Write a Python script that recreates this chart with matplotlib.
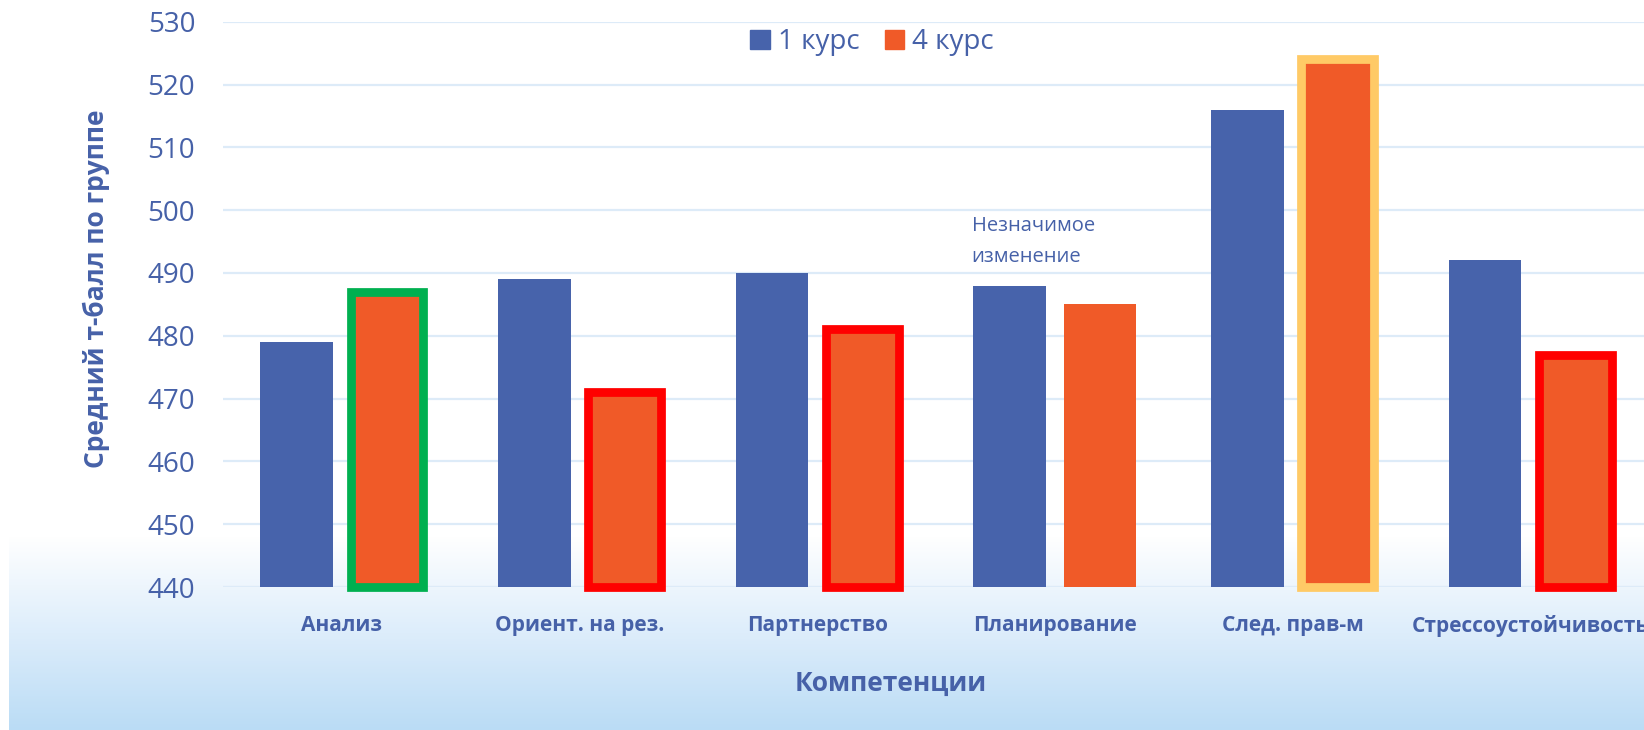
import numpy as np
import matplotlib.pyplot as plt
from matplotlib.colors import LinearSegmentedColormap
from matplotlib.patches import Patch

plt.rcParams['font.family'] = ['Open Sans', 'DejaVu Sans']

# Datos del grafico
categorias = ['Анализ', 'Ориент. на рез.', 'Партнерство', 'Планирование',
              'След. прав-м', 'Стрессоустойчивость']
curso_1 = [479, 489, 490, 488, 516, 492]
curso_4 = [487, 471, 481, 485, 524, 477]
series = ['1 курс', '4 курс']
bordes_4 = ['#00B050', '#FF0000', '#FF0000', None, '#FFCA66', '#FF0000']
ticks_y = [440, 450, 460, 470, 480, 490, 500, 510, 520, 530]

azul = '#4763AB'
naranja = '#F05A28'
texto = '#4661A8'

fig = plt.figure(figsize=(16.44, 7.30), dpi=100)
fig.patch.set_facecolor('white')

# Fondo degradado en la parte inferior
fondo = fig.add_axes([9 / 1644, 0, 1, (730 - 537) / 730], zorder=-10)
cmap = LinearSegmentedColormap.from_list('fondo', ['#BADCF5', '#DDEDFB', '#FFFFFF'])
grad = np.linspace(0, 1, 256).reshape(-1, 1)
fondo.imshow(grad, aspect='auto', cmap=cmap, origin='lower', extent=[0, 1, 0, 1])
fondo.axis('off')

ax = fig.add_axes([223 / 1644, 143 / 730, 1426 / 1644, 565.3 / 730])
ax.set_facecolor('none')

x = np.arange(len(categorias))
ancho = 0.305
desp = 0.19
base = ticks_y[0]

ax.bar(x - desp, np.array(curso_1) - base, ancho, bottom=base, color=azul,
       zorder=3, clip_on=False)
for i, v in enumerate(curso_4):
    borde = bordes_4[i]
    ax.bar(x[i] + desp, v - base, ancho, bottom=base, color=naranja,
           edgecolor=borde if borde else 'none', linewidth=6.3 if borde else 0,
           zorder=3, clip_on=False)

ax.set_xlim(-0.5, len(categorias) - 0.5)
ax.set_ylim(ticks_y[0], ticks_y[-1])
ax.set_yticks(ticks_y)
ax.yaxis.grid(True, color='#DDEBF8', linewidth=1.6, zorder=0)
ax.set_axisbelow(True)
for s in ax.spines.values():
    s.set_visible(False)

ax.tick_params(axis='y', length=0, pad=20, labelsize=20, labelcolor=texto)
ax.tick_params(axis='x', length=0, pad=20)
ax.set_xticks(x)
ax.set_xticklabels(categorias, fontsize=15, fontweight='bold', color=texto)

# Anotacion
ax.text(3 - 0.35, 495, 'Незначимое\nизменение', fontsize=14.5, color=texto,
        ha='left', va='center', linespacing=1.75)

# Leyenda
handles = [Patch(color=azul, label=series[0]), Patch(color=naranja, label=series[1])]
fig.legend(handles=handles, loc='center', bbox_to_anchor=(872 / 1644, 688 / 730),
           ncol=2, frameon=False, fontsize=20, labelcolor=texto,
           handlelength=0.7, handleheight=0.7, handletextpad=0.3, columnspacing=0.9)

# Titulos de ejes
fig.text(96 / 1644, 441 / 730, 'Средний т-балл по группе', rotation=90,
         fontsize=19, fontweight='bold', color=texto, ha='center', va='center')
fig.text(891 / 1644, 47 / 730, 'Компетенции', fontsize=19, fontweight='bold',
         color=texto, ha='center', va='center')

fig.savefig('out.png', dpi=100)
